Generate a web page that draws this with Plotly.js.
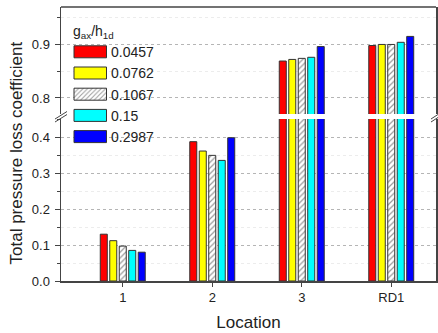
<!DOCTYPE html>
<html><head><meta charset="utf-8">
<script src="https://cdn.plot.ly/plotly-3.0.1.min.js"></script>
<style>html,body{margin:0;padding:0;background:#fff}</style>
</head><body>
<div id="chart" style="width:438px;height:333px"></div>
<script>
var categories = ['1', '2', '3', 'RD1'];
var seriesNames = ['0.0457', '0.0762', '0.1067', '0.15', '0.2987'];
var v0457 = [0.130, 0.387, 0.869, 0.898];
var v0762 = [0.112, 0.361, 0.872, 0.900];
var v1067 = [0.097, 0.349, 0.874, 0.900];
var v15   = [0.085, 0.335, 0.876, 0.904];
var v2987 = [0.080, 0.398, 0.896, 0.915];
var seriesValues = [v0457, v0762, v1067, v15, v2987];
var lowerTicks = [0.0, 0.1, 0.2, 0.3, 0.4];
var upperTicks = [0.8, 0.9];

var colors = ['#ff0000', '#ffff00', '#ffffff', '#00ffff', '#0000ff'];
var W = 438, H = 333, mL = 61, mR = 2, mT = 7, mB = 52;
var pw = W - mL - mR, ph = H - mT - mB;
function px(x) { return (x - mL) / pw; }
function py(y) { return (H - mB - y) / ph; }

var traces = [];
[['y', true], ['y2', false]].forEach(function (ax) {
  seriesNames.forEach(function (name, i) {
    var marker = {color: colors[i], line: {color: '#333', width: 1}};
    if (i === 2) {
      marker.pattern = {shape: '/', bgcolor: '#ffffff', fgcolor: '#9a9a9a', size: 4, solidity: 0.3};
    }
    traces.push({
      type: 'bar', x: categories, y: seriesValues[i], name: name,
      xaxis: 'x', yaxis: ax[0], showlegend: ax[1], legendgroup: name,
      marker: marker, hoverinfo: 'skip'
    });
  });
});

var axFont = {family: 'Liberation Sans, Arial, sans-serif', size: 13, color: '#222'};
var gridCommon = {
  showline: true, linecolor: '#444', linewidth: 1.5, mirror: true,
  ticks: 'outside', ticklen: 5, tickwidth: 1, tickcolor: '#444',
  showgrid: true, gridcolor: '#b5b5b5', griddash: 'dot', gridwidth: 1,
  zeroline: false, tickfont: axFont, ticklabelstandoff: 2
};

var layout = {
  width: W, height: H,
  margin: {l: mL, r: mR, t: mT, b: mB, pad: 0},
  paper_bgcolor: '#fff', plot_bgcolor: '#fff',
  font: {family: 'Liberation Sans, Arial, sans-serif', color: '#222'},
  barmode: 'group', bargap: 0.47, bargroupgap: 0.26,
  showlegend: true,
  legend: {
    x: px(71), y: py(18), xanchor: 'left', yanchor: 'top',
    bgcolor: 'rgba(0,0,0,0)', borderwidth: 0, tracegroupgap: 0,
    font: {size: 14, family: 'Liberation Sans, Arial, sans-serif', color: '#222'},
    title: {text: 'g<sub>ax</sub>/h<sub>1d</sub>', side: 'top', font: {size: 14}},
    itemwidth: 30, traceorder: 'normal'
  },
  xaxis: {
    type: 'category', range: [-0.69, 3.5], anchor: 'y',
    showline: true, linecolor: '#444', linewidth: 1.5, mirror: false,
    ticks: 'outside', ticklen: 4, tickcolor: '#444', tickfont: axFont,
    showgrid: false, zeroline: false,
    title: {text: 'Location', font: {size: 17}, standoff: 12}
  },
  yaxis: Object.assign({}, gridCommon, {
    domain: [0, py(119)], range: [0, 0.45],
    tickvals: lowerTicks, ticktext: lowerTicks.map(function (v) { return v.toFixed(1); }),
    minor: {dtick: 0.05, tick0: 0, ticks: 'outside', ticklen: 3, tickcolor: '#444', showgrid: true, gridcolor: '#ececec', griddash: 'dot'}
  }),
  yaxis2: Object.assign({}, gridCommon, {
    domain: [py(114), 1], range: [0.77, 0.97], anchor: 'x',
    tickvals: upperTicks, ticktext: upperTicks.map(function (v) { return v.toFixed(1); }),
    minor: {dtick: 0.05, tick0: 0, ticks: 'outside', ticklen: 3, tickcolor: '#444', showgrid: true, gridcolor: '#ececec', griddash: 'dot'}
  }),
  annotations: [{
    text: 'Total pressure loss coefficient', textangle: -90,
    xref: 'paper', yref: 'paper', x: px(16), y: py(153.5), showarrow: false,
    xanchor: 'center', yanchor: 'middle', font: {size: 17, color: '#222'}
  }],
  shapes: [
    {type: 'line', xref: 'paper', yref: 'paper', x0: 0, x1: 1, y0: 1, y1: 1, line: {color: '#444', width: 1.5}},
    {type: 'rect', xref: 'paper', yref: 'paper', x0: px(56), x1: px(66), y0: py(114.5), y1: py(118.5), fillcolor: '#fff', line: {width: 0}},
    {type: 'line', xref: 'paper', yref: 'paper', x0: px(55), x1: px(67), y0: py(119), y1: py(111.5), line: {color: '#444', width: 1}},
    {type: 'line', xref: 'paper', yref: 'paper', x0: px(55), x1: px(67), y0: py(122), y1: py(114.5), line: {color: '#444', width: 1}},
    {type: 'line', xref: 'paper', yref: 'paper', x0: px(431), x1: px(441), y0: py(119), y1: py(112.5), line: {color: '#444', width: 1}},
    {type: 'line', xref: 'paper', yref: 'paper', x0: px(431), x1: px(441), y0: py(122), y1: py(115.5), line: {color: '#444', width: 1}}
  ]
};

Plotly.newPlot('chart', traces, layout, {displayModeBar: false, staticPlot: true}).then(function () {
  var paths = document.querySelectorAll('.legend .legendpoints path');
  paths.forEach(function (p) { p.setAttribute('d', 'M15.5,6H-17V-6H15.5Z'); });
});
</script>
</body></html>
